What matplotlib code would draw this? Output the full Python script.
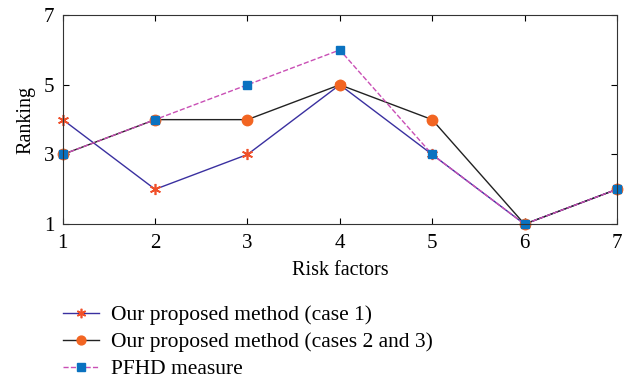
import matplotlib.pyplot as plt

plt.rcParams['font.family'] = ['Liberation Serif', 'DejaVu Serif']

# factores de riesgo y rankings
factores = [1, 2, 3, 4, 5, 6, 7]
caso1 = [4, 2, 3, 5, 3, 1, 2]
casos23 = [3, 4, 4, 5, 4, 1, 2]
pfhd = [3, 4, 5, 6, 3, 1, 2]

fig = plt.figure(figsize=(6.34, 3.78), dpi=100)
ax = fig.add_axes([0.099, 0.407, 0.874, 0.553])

ax.plot(factores, caso1, '-', color='#3a30a0', lw=1.0, marker=(6, 2, 0),
        ms=8, mew=1.2, mfc='#f0502a', mec='#f0502a', clip_on=False,
        label='Our proposed method (case 1)')
ax.plot(factores, casos23, '-', color='#222222', lw=1.0, marker='o',
        ms=7.5, mfc='#f26522', mec='#f26522', clip_on=False,
        label='Our proposed method (cases 2 and 3)')
ax.plot(factores, pfhd, '--', color='#c94fb5', lw=1.0, marker='s',
        ms=6, mfc='#0a72c0', mec='#0a72c0', clip_on=False,
        label='PFHD measure')

ax.set_xlim(1, 7)
ax.set_ylim(1, 7)
ax.set_xticks(factores)
ax.set_yticks([1, 3, 5, 7])
ax.tick_params(direction='in', top=True, right=True, labelsize=15, length=4)
ax.tick_params(axis='x', pad=7)
ax.tick_params(axis='y', pad=6)
for s in ax.spines.values():
    s.set_color('#333333')
ax.set_xlabel('Risk factors', fontsize=14.5, labelpad=6)
ax.set_ylabel('Ranking', fontsize=14.5, labelpad=6)

fig.legend(loc='upper left', bbox_to_anchor=(0.099, 0.192), frameon=False,
           fontsize=15.5, handlelength=1.7, handletextpad=0.55,
           labelspacing=0.32, borderpad=0, borderaxespad=0, markerscale=0.85)

fig.savefig('out.png', dpi=100)
